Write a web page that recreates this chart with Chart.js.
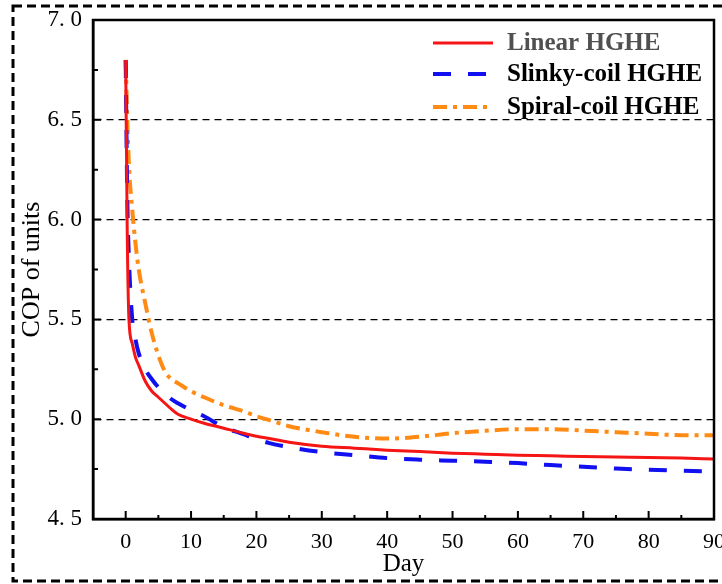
<!DOCTYPE html>
<html>
<head>
<meta charset="utf-8">
<script src="https://cdn.jsdelivr.net/npm/chart.js@4.4.1/dist/chart.umd.min.js"></script>
<style>
  html, body { margin: 0; padding: 0; background: #fff; }
  #wrap { width: 722px; height: 584px; }
</style>
</head>
<body>
<div id="wrap"><canvas id="c" width="722" height="584"></canvas></div>
<script>
// ---- data ----
const days = [0, 0.25, 0.5, 1, 1.5, 2, 3, 4, 5, 6, 7, 8, 10, 12, 15, 18, 20, 22, 25, 30, 35, 40, 45, 50, 55, 60, 65, 70, 75, 80, 85, 90];
const linearHGHE = [6.8, 5.9, 5.5, 5.38, 5.31, 5.27, 5.19, 5.14, 5.11, 5.08, 5.05, 5.025, 5.0, 4.98, 4.955, 4.93, 4.915, 4.903, 4.885, 4.865, 4.855, 4.845, 4.838, 4.83, 4.825, 4.82, 4.817, 4.813, 4.81, 4.808, 4.805, 4.8];
const slinkyHGHE = [6.8, 6.1, 5.8, 5.5, 5.4, 5.33, 5.25, 5.2, 5.16, 5.13, 5.1, 5.08, 5.045, 5.015, 4.96, 4.925, 4.9, 4.88, 4.86, 4.835, 4.82, 4.805, 4.797, 4.792, 4.787, 4.78, 4.77, 4.762, 4.753, 4.747, 4.742, 4.737];
const spiralHGHE = [6.8, 6.5, 6.27, 6.05, 5.88, 5.75, 5.58, 5.43, 5.32, 5.24, 5.2, 5.18, 5.14, 5.11, 5.07, 5.04, 5.015, 4.995, 4.965, 4.935, 4.912, 4.903, 4.912, 4.93, 4.942, 4.95, 4.95, 4.943, 4.935, 4.927, 4.92, 4.92];
const seriesLabels = ['Linear HGHE', 'Slinky-coil HGHE', 'Spiral-coil HGHE'];
const xTickValues = [0, 10, 20, 30, 40, 50, 60, 70, 80, 90];
const xMinorTicks = [5, 15, 25, 35, 45, 55, 65, 75, 85];
const yTickValues = [4.5, 5.0, 5.5, 6.0, 6.5, 7.0];
const yMinorTicks = [4.75, 5.25, 5.75, 6.25, 6.75];
const yGridValues = [5.0, 5.5, 6.0, 6.5];

const serif = "'Liberation Serif', 'Times New Roman', serif";
const pts = arr => days.map((d, i) => ({ x: d, y: arr[i] }));

const styles = [
  { color: '#f51515', dash: [], width: 3 },
  { color: '#1010f0', dash: [18, 17], width: 4 },
  { color: '#ff8a14', dash: [14, 6, 4, 6], width: 4 }
];
const legendTextColors = ['#505050', '#000000', '#000000'];

const framePlugin = {
  id: 'framePlugin',
  beforeDraw(chart) {
    const ctx = chart.ctx;
    ctx.save();
    ctx.strokeStyle = '#000';
    ctx.lineWidth = 3;
    ctx.setLineDash([9, 5]);
    ctx.strokeRect(13, 6, 730, 575);
    ctx.restore();
  },
  afterDraw(chart) {
    const ctx = chart.ctx;
    const a = chart.chartArea;
    const xs = chart.scales.x, ys = chart.scales.y;
    ctx.save();
    ctx.strokeStyle = '#000';
    ctx.setLineDash([]);
    ctx.lineWidth = 2.5;
    ctx.strokeRect(a.left, a.top, a.right - a.left, a.bottom - a.top);
    // inward ticks
    ctx.lineWidth = 2;
    ctx.beginPath();
    xTickValues.forEach(v => { const p = xs.getPixelForValue(v); ctx.moveTo(p, a.bottom); ctx.lineTo(p, a.bottom - 8); });
    xMinorTicks.forEach(v => { const p = xs.getPixelForValue(v); ctx.moveTo(p, a.bottom); ctx.lineTo(p, a.bottom - 4); });
    yTickValues.forEach(v => { const p = ys.getPixelForValue(v); ctx.moveTo(a.left, p); ctx.lineTo(a.left + 8, p); });
    yMinorTicks.forEach(v => { const p = ys.getPixelForValue(v); ctx.moveTo(a.left, p); ctx.lineTo(a.left + 5, p); });
    ctx.stroke();
    // legend
    const lx0 = a.right - 281, lx1 = a.right - 221, tx = a.right - 207;
    const rows = [a.top + 23, a.top + 54, a.top + 87];
    chart.data.datasets.forEach((ds, i) => {
      const y = rows[i];
      ctx.strokeStyle = ds.borderColor;
      ctx.lineWidth = ds.borderWidth;
      ctx.setLineDash(ds.borderDash || []);
      ctx.beginPath();
      ctx.moveTo(lx0, y); ctx.lineTo(lx1, y);
      ctx.stroke();
      ctx.setLineDash([]);
      ctx.fillStyle = legendTextColors[i];
      ctx.font = "bold 25px " + serif;
      ctx.textBaseline = 'middle';
      ctx.textAlign = 'left';
      ctx.fillText(ds.label, tx, y + 1);
    });
    ctx.restore();
  }
};

const datasets = [linearHGHE, slinkyHGHE, spiralHGHE].map((arr, i) => ({
  label: seriesLabels[i],
  data: pts(arr),
  borderColor: styles[i].color,
  borderWidth: styles[i].width,
  borderDash: styles[i].dash,
  pointRadius: 0,
  fill: false,
  cubicInterpolationMode: 'monotone'
}));

new Chart(document.getElementById('c'), {
  type: 'line',
  data: { datasets },
  plugins: [framePlugin],
  options: {
    responsive: false,
    animation: false,
    layout: { padding: { left: 0, top: 20, right: 8, bottom: 0 } },
    plugins: { legend: { display: false }, tooltip: { enabled: false } },
    scales: {
      x: {
        type: 'linear',
        min: -5, max: 90,
        afterFit(s) { s.height = 65; s.paddingLeft = 0; s.paddingRight = 0; },
        afterBuildTicks(s) { s.ticks = xTickValues.map(v => ({ value: v })); },
        ticks: { color: '#000', padding: 10, font: { family: serif, size: 22 }, maxRotation: 0, autoSkip: false },
        grid: { display: false, drawTicks: false },
        border: { display: true, color: '#000', width: 2.5 },
        title: { display: true, text: 'Day', color: '#000', font: { family: serif, size: 25 }, padding: { top: 5, bottom: 5 } }
      },
      y: {
        min: 4.5, max: 7.0,
        afterFit(s) { s.width = 93; s.paddingTop = 0; s.paddingBottom = 0; },
        afterBuildTicks(s) { s.ticks = yTickValues.map(v => ({ value: v })); },
        ticks: {
          color: '#000', padding: 11, font: { family: serif, size: 23 },
          callback: v => v.toFixed(1).replace('.', '. ')
        },
        grid: {
          drawTicks: false,
          color: c => yGridValues.includes(Math.round(c.tick.value * 100) / 100) ? '#000' : 'rgba(0,0,0,0)',
          lineWidth: 1.2
        },
        border: { display: true, color: '#000', width: 2.5, dash: [7, 5] },
        title: { display: true, text: 'COP of units', color: '#000', font: { family: serif, size: 26 }, padding: { top: 17, bottom: 17 } }
      }
    }
  }
});
</script>
</body>
</html>
